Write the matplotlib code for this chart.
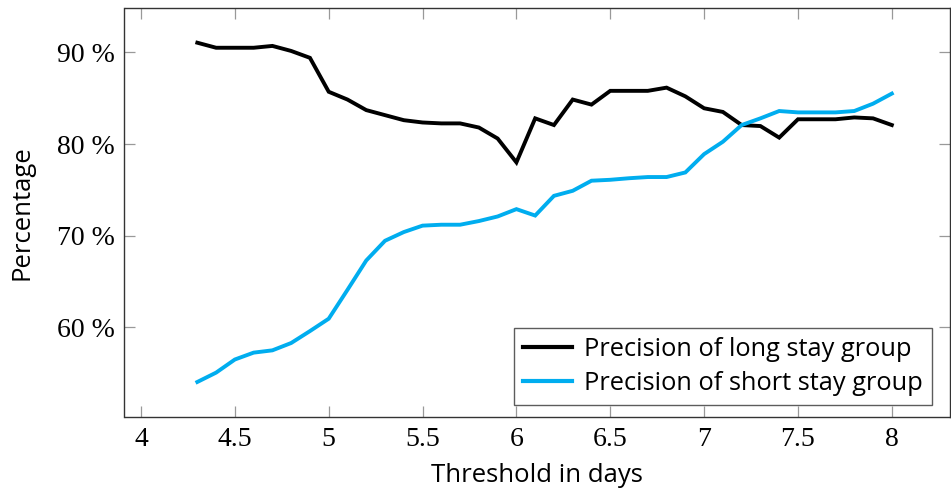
import matplotlib
matplotlib.use("Agg")
import matplotlib.pyplot as plt
from matplotlib.ticker import FixedLocator, FuncFormatter

thresholds = [4.3, 4.4, 4.5, 4.6, 4.7, 4.8, 4.9, 5.0, 5.1, 5.2, 5.3, 5.4, 5.5, 5.6,
              5.7, 5.8, 5.9, 6.0, 6.1, 6.2, 6.3, 6.4, 6.5, 6.6, 6.7, 6.8, 6.9, 7.0,
              7.1, 7.2, 7.3, 7.4, 7.5, 7.6, 7.7, 7.8, 7.9, 8.0]
long_stay = [91.05, 90.5, 90.5, 90.5, 90.7, 90.15, 89.4, 85.7, 84.85, 83.7, 83.15,
             82.6, 82.35, 82.25, 82.25, 81.8, 80.6, 78.0, 82.8, 82.07, 84.85, 84.3,
             85.8, 85.8, 85.8, 86.15, 85.2, 83.9, 83.5, 82.07, 81.96, 80.7, 82.7,
             82.7, 82.7, 82.9, 82.8, 82.07]
short_stay = [54.05, 55.07, 56.5, 57.25, 57.5, 58.3, 59.6, 60.95, 64.1, 67.3, 69.45,
              70.4, 71.1, 71.2, 71.2, 71.6, 72.1, 72.9, 72.2, 74.35, 74.9, 76.0,
              76.1, 76.27, 76.4, 76.4, 76.9, 78.9, 80.25, 82.07, 82.8, 83.6, 83.45,
              83.45, 83.45, 83.6, 84.4, 85.5]
x_ticks = [4, 4.5, 5, 5.5, 6, 6.5, 7, 7.5, 8]
y_ticks = [60, 70, 80, 90]
series_labels = ["Precision of long stay group", "Precision of short stay group"]

W, H = 951, 493
fig = plt.figure(figsize=(W / 100, H / 100), dpi=100)
left, right, top, bottom = 124.5, 950.0, 7.5, 417.0
ax = fig.add_axes([left / W, 1 - bottom / H, (right - left) / W, (bottom - top) / H])

ax.plot(thresholds, long_stay, color="black", lw=2.8, solid_joinstyle="miter",
        label=series_labels[0])
ax.plot(thresholds, short_stay, color="#00adef", lw=2.8, solid_joinstyle="miter",
        label=series_labels[1])

ax.set_xlim(3.912, 8.31)
ax.set_ylim(50.23, 94.89)
ax.xaxis.set_major_locator(FixedLocator(x_ticks))
ax.yaxis.set_major_locator(FixedLocator(y_ticks))
ax.xaxis.set_major_formatter(FuncFormatter(lambda v, p: f"{v:g}"))
ax.yaxis.set_major_formatter(FuncFormatter(lambda v, p: f"{v:g} %"))

ax.tick_params(direction="in", length=8, width=0.9, color="#999999",
               top=True, right=True, labelsize=20, pad=7)
for lab in ax.get_xticklabels() + ax.get_yticklabels():
    lab.set_family("Liberation Serif")
for s in ax.spines.values():
    s.set_color("#333333")
    s.set_linewidth(1.0)

sans = "Open Sans"
ax.set_xlabel("Threshold in days", family=sans, fontsize=18.5, labelpad=8)
ax.set_ylabel("Percentage", family=sans, fontsize=18.5, labelpad=16)

ax_w = right - left
ax_h = bottom - top
leg = ax.legend(loc="lower right", prop={"family": sans, "size": 18.3},
                frameon=True, fancybox=False, edgecolor="#333333",
                handlelength=1.9, handletextpad=0.5, borderpad=0.35,
                labelspacing=0.35, borderaxespad=0,
                bbox_to_anchor=((932 - left) / ax_w, (bottom - 405) / ax_h))
leg.get_frame().set_linewidth(1.0)
for line in leg.get_lines():
    line.set_linewidth(3.0)

fig.savefig("out.png", dpi=100)
